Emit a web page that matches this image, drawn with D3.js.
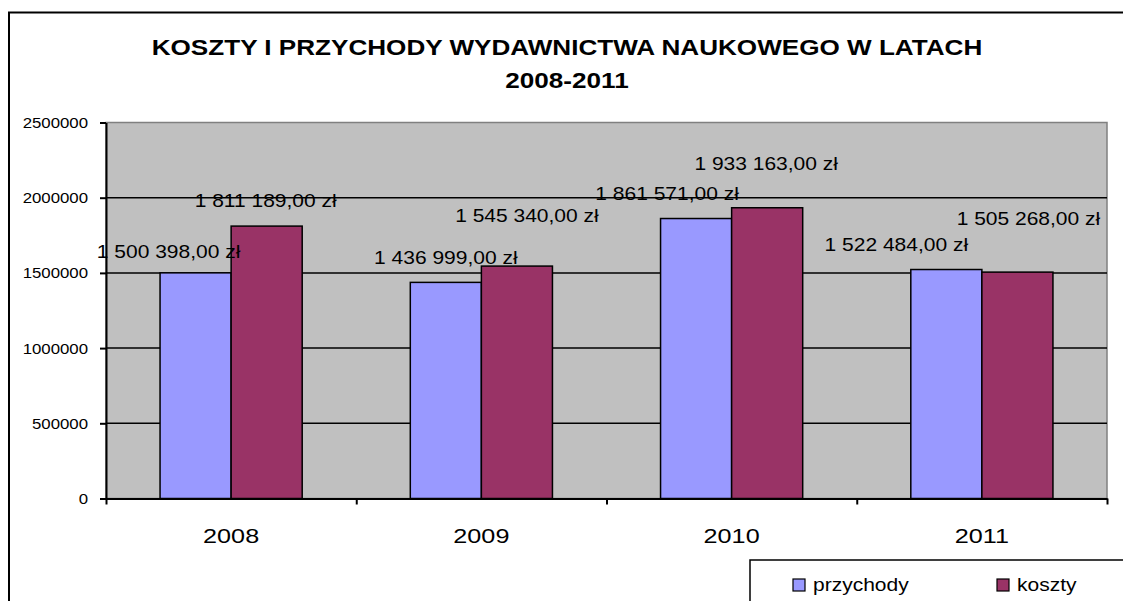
<!DOCTYPE html>
<html>
<head>
<meta charset="utf-8">
<script src="https://cdn.jsdelivr.net/npm/d3@7"></script>
<style>
  body { margin: 0; background: #fff; }
  svg { display: block; font-family: "Liberation Sans", Arial, sans-serif; }
</style>
</head>
<body>
<div id="chart"></div>
<script>
// data
var years = ["2008", "2009", "2010", "2011"];
var przychody = [1500398, 1436999, 1861571, 1522484];
var koszty = [1811189, 1545340, 1933163, 1505268];
var seriesNames = ["przychody", "koszty"];
var yTicks = [0, 500000, 1000000, 1500000, 2000000, 2500000];
var titleLines = ["KOSZTY I PRZYCHODY WYDAWNICTWA NAUKOWEGO W LATACH", "2008-2011"];

// the labels were moved by hand in the original, so nudge them (dx, dy from bar top centre)
var labelShift = [
  [[-27, -21], [0, -24], [-29, -24], [-50, -24]],
  [[-1, -25], [10, -50], [-1, -44], [11, -53]]
];

var colors = ["#9999FF", "#993366"];
var stretch = 1.2; // text in the picture is a bit wide

var svgWidth = 1123, svgHeight = 601;
var margin = {top: 122.5, right: 16, bottom: 102.5, left: 106};
var width = svgWidth - margin.left - margin.right,
    height = svgHeight - margin.top - margin.bottom;

var svg = d3.select("#chart")
  .append("svg")
  .attr("width", svgWidth)
  .attr("height", svgHeight);

// outer chart frame (runs off the right and bottom)
svg.append("rect")
  .attr("x", 9).attr("y", 12.5)
  .attr("width", 1300).attr("height", 700)
  .attr("fill", "#fff")
  .attr("stroke", "#000")
  .attr("stroke-width", 2);

function stretchedText(sel, x, y, txt, size, anchor, weight, sx) {
  return sel.append("text")
    .attr("transform", "translate(" + x + "," + y + ") scale(" + (sx || stretch) + ",1)")
    .attr("text-anchor", anchor)
    .attr("dominant-baseline", "central")
    .attr("font-size", size)
    .attr("font-weight", weight || "normal")
    .attr("fill", "#000")
    .text(txt);
}

// title
titleLines.forEach(function(t, i) {
  stretchedText(svg, 567, 47 + i * 33, t, 22.5, "middle", "bold", 1.16);
});

var g = svg.append("g")
  .attr("transform", "translate(" + margin.left + "," + margin.top + ")");

var x0 = d3.scaleBand()
  .domain(years)
  .range([0, width])
  .paddingInner(0.432)
  .paddingOuter(0.216);

var x1 = d3.scaleBand()
  .domain(seriesNames)
  .range([0, x0.bandwidth()]);

var y = d3.scaleLinear()
  .domain([0, 2500000])
  .range([height, 0]);

// plot area
g.append("rect")
  .attr("width", width).attr("height", height)
  .attr("fill", "#C0C0C0")
  .attr("stroke", "#808080")
  .attr("stroke-width", 1.5);

// gridlines
g.append("g")
  .selectAll("line")
  .data(yTicks.filter(function(d) { return d > 0 && d < 2500000; }))
  .enter()
  .append("line")
    .attr("x1", 0).attr("x2", width)
    .attr("y1", function(d) { return y(d); })
    .attr("y2", function(d) { return y(d); })
    .attr("stroke", "#000")
    .attr("stroke-width", 1.5);

var series = [przychody, koszty];

// bars
series.forEach(function(vals, s) {
  g.append("g")
    .selectAll("rect")
    .data(vals)
    .enter()
    .append("rect")
      .attr("x", function(d, i) { return x0(years[i]) + x1(seriesNames[s]); })
      .attr("y", function(d) { return y(d); })
      .attr("width", x1.bandwidth())
      .attr("height", function(d) { return height - y(d); })
      .attr("fill", colors[s])
      .attr("stroke", "#000")
      .attr("stroke-width", 1.5);
});

// y axis
var yAxis = g.append("g")
  .call(d3.axisLeft(y).tickValues(yTicks).tickSize(6).tickSizeOuter(0).tickFormat(d3.format("d")));
yAxis.select(".domain").attr("stroke-width", 2);
yAxis.selectAll(".tick line").attr("stroke-width", 2);
yAxis.selectAll(".tick text").remove();
yAxis.selectAll(".tick").each(function(d) {
  stretchedText(d3.select(this), -18, 0, d, 14, "end");
});

// x axis, ticks on category edges
var xEdge = d3.scaleLinear().domain([0, years.length]).range([0, width]);
var xAxis = g.append("g")
  .attr("transform", "translate(0," + height + ")")
  .call(d3.axisBottom(xEdge).ticks(years.length).tickSize(6).tickSizeOuter(0).tickFormat(""));
xAxis.select(".domain").attr("stroke-width", 2);
xAxis.selectAll(".tick line").attr("stroke-width", 2);

years.forEach(function(yr) {
  stretchedText(xAxis, x0(yr) + x0.bandwidth() / 2, 37, yr, 21, "middle");
});

// value labels
var fmt = d3.formatLocale({decimal: ",", thousands: " ", grouping: [3], currency: ["", " zł"]}).format("$,.2f");
series.forEach(function(vals, s) {
  vals.forEach(function(v, i) {
    var cx = x0(years[i]) + x1(seriesNames[s]) + x1.bandwidth() / 2;
    stretchedText(g, cx + labelShift[s][i][0], y(v) + labelShift[s][i][1], fmt(v), 17.5, "middle");
  });
});

// legend
var legend = svg.append("g").attr("transform", "translate(750,560)");
legend.append("rect")
  .attr("width", 400).attr("height", 80)
  .attr("fill", "#fff")
  .attr("stroke", "#000")
  .attr("stroke-width", 1.5);

var legendX = [43, 247];
seriesNames.forEach(function(name, s) {
  legend.append("rect")
    .attr("x", legendX[s]).attr("y", 19)
    .attr("width", 12).attr("height", 12)
    .attr("fill", colors[s])
    .attr("stroke", "#000")
    .attr("stroke-width", 1.2);
  stretchedText(legend, legendX[s] + 20, 25, name, 17.5, "start");
});
</script>
</body>
</html>
